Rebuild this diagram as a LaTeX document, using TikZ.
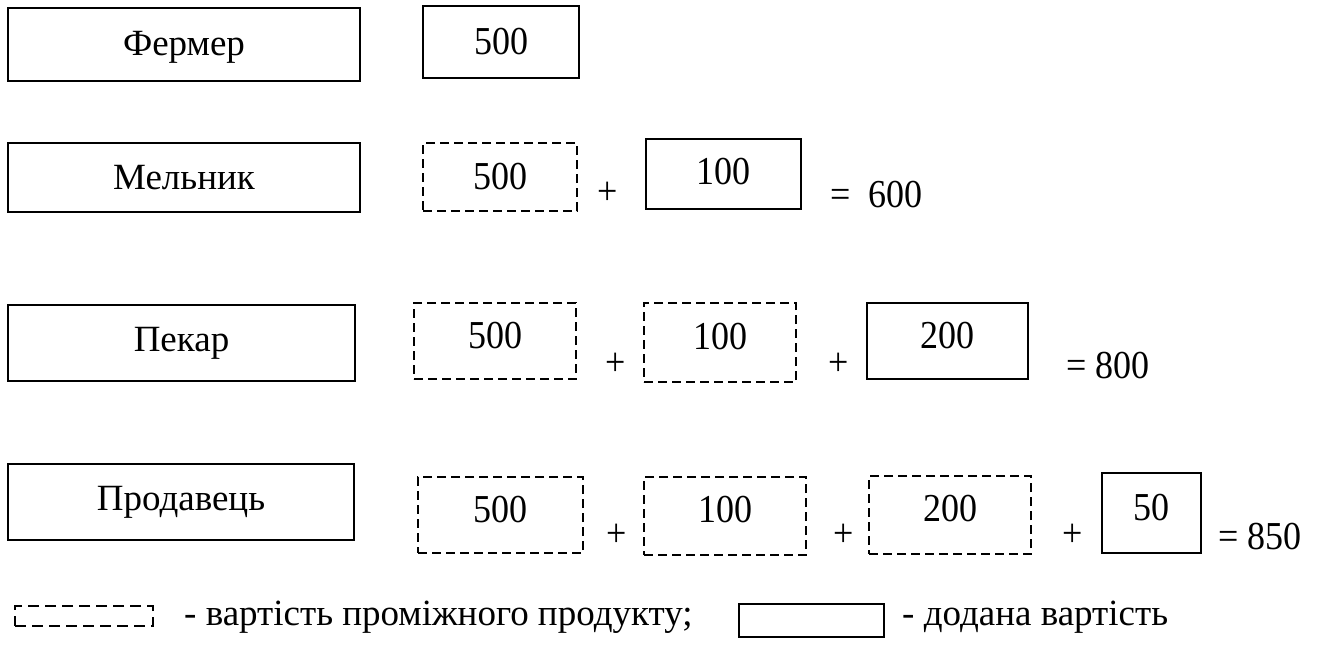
\documentclass[tikz,border=0pt]{standalone}
\usepackage{fontspec}
\usepackage{graphicx}
\setmainfont{Liberation Serif}
\newcommand{\tallnum}[1]{\scalebox{1}[1.1]{#1}}
\newcommand{\upby}[2]{\raisebox{0pt}[\height][\dimexpr\depth+#1*2\relax]{#2}}
\newcommand{\downby}[2]{\raisebox{0pt}[\dimexpr\height+#1*2\relax][\depth]{#2}}
\begin{document}
\begin{tikzpicture}[x=1pt,y=-1pt,
  namebox/.style={draw, line width=2pt, inner sep=0pt, font=\fontsize{37}{40}\selectfont},
  addbox/.style={draw, line width=2pt, inner sep=0pt, font=\fontsize{36}{40}\selectfont},
  midbox/.style={draw, line width=2.7pt, dash pattern=on 9pt off 5pt, inner sep=0pt, font=\fontsize{36}{40}\selectfont},
  op/.style={anchor=base, inner sep=0pt, font=\fontsize{36}{40}\selectfont},
  res/.style={anchor=base west, inner sep=0pt, font=\fontsize{36}{40}\selectfont},
  legtext/.style={anchor=base west, inner sep=0pt, font=\fontsize{37}{40}\selectfont}
]
\useasboundingbox (0,0) rectangle (1320,645);

% name boxes
\node[namebox, minimum width=352pt, minimum height=73pt] (farmer) at (184,44.5) {\downby{3pt}{Фермер}};
\node[namebox, minimum width=352pt, minimum height=69pt] (miller) at (184,177.5) {Мельник};
\node[namebox, minimum width=347pt, minimum height=76pt] (baker) at (181.5,343) {Пекар};
\node[namebox, minimum width=346pt, minimum height=76pt] (seller) at (181,502) {Продавець};

% row 1
\node[addbox, minimum width=156pt, minimum height=72pt] (r1a) at (501,42) {\tallnum{500}};

% row 2
\node[midbox, minimum width=154pt, minimum height=68pt] (r2a) at (500,177) {\tallnum{500}};
\node[op] (r2p1) at (608,204) {\tallnum{+}};
\node[addbox, minimum width=155pt, minimum height=70pt] (r2b) at (723.5,174) {\upby{2pt}{\tallnum{100}}};
\node[res] (r2eq) at (830,207) {\tallnum{=\ \ 600}};

% row 3
\node[midbox, minimum width=162pt, minimum height=76pt] (r3a) at (495,341) {\upby{5pt}{\tallnum{500}}};
\node[op] (r3p1) at (616,375) {\tallnum{+}};
\node[midbox, minimum width=152pt, minimum height=79pt] (r3b) at (720,342.5) {\upby{6pt}{\tallnum{100}}};
\node[op] (r3p2) at (839,375) {\tallnum{+}};
\node[addbox, minimum width=161pt, minimum height=76pt] (r3c) at (947.5,341) {\upby{5pt}{\tallnum{200}}};
\node[res] (r3eq) at (1066,378) {\tallnum{= 800}};

% row 4
\node[midbox, minimum width=165pt, minimum height=76pt] (r4a) at (500.5,515) {\upby{5pt}{\tallnum{500}}};
\node[op] (r4p1) at (617,546) {\tallnum{+}};
\node[midbox, minimum width=162pt, minimum height=78pt] (r4b) at (725,516) {\upby{6pt}{\tallnum{100}}};
\node[op] (r4p2) at (844,546) {\tallnum{+}};
\node[midbox, minimum width=162pt, minimum height=78pt] (r4c) at (950,515) {\upby{6pt}{\tallnum{200}}};
\node[op] (r4p3) at (1073,546) {\tallnum{+}};
\node[addbox, minimum width=99pt, minimum height=80pt] (r4d) at (1151.5,513) {\upby{5pt}{\tallnum{50}}};
\node[res] (r4eq) at (1218,549) {\tallnum{= 850}};

% legend
\node[draw, line width=2.4pt, dash pattern=on 11pt off 6pt, inner sep=0pt, minimum width=138pt, minimum height=20pt] (legmid) at (84,616) {};
\node[legtext] (legmidtxt) at (184,625) {- вартість проміжного продукту;};
\node[draw, line width=2pt, inner sep=0pt, minimum width=145pt, minimum height=33pt] (legadd) at (811.5,620.5) {};
\node[legtext] (legaddtxt) at (902,625) {- додана вартість};
\end{tikzpicture}
\end{document}
